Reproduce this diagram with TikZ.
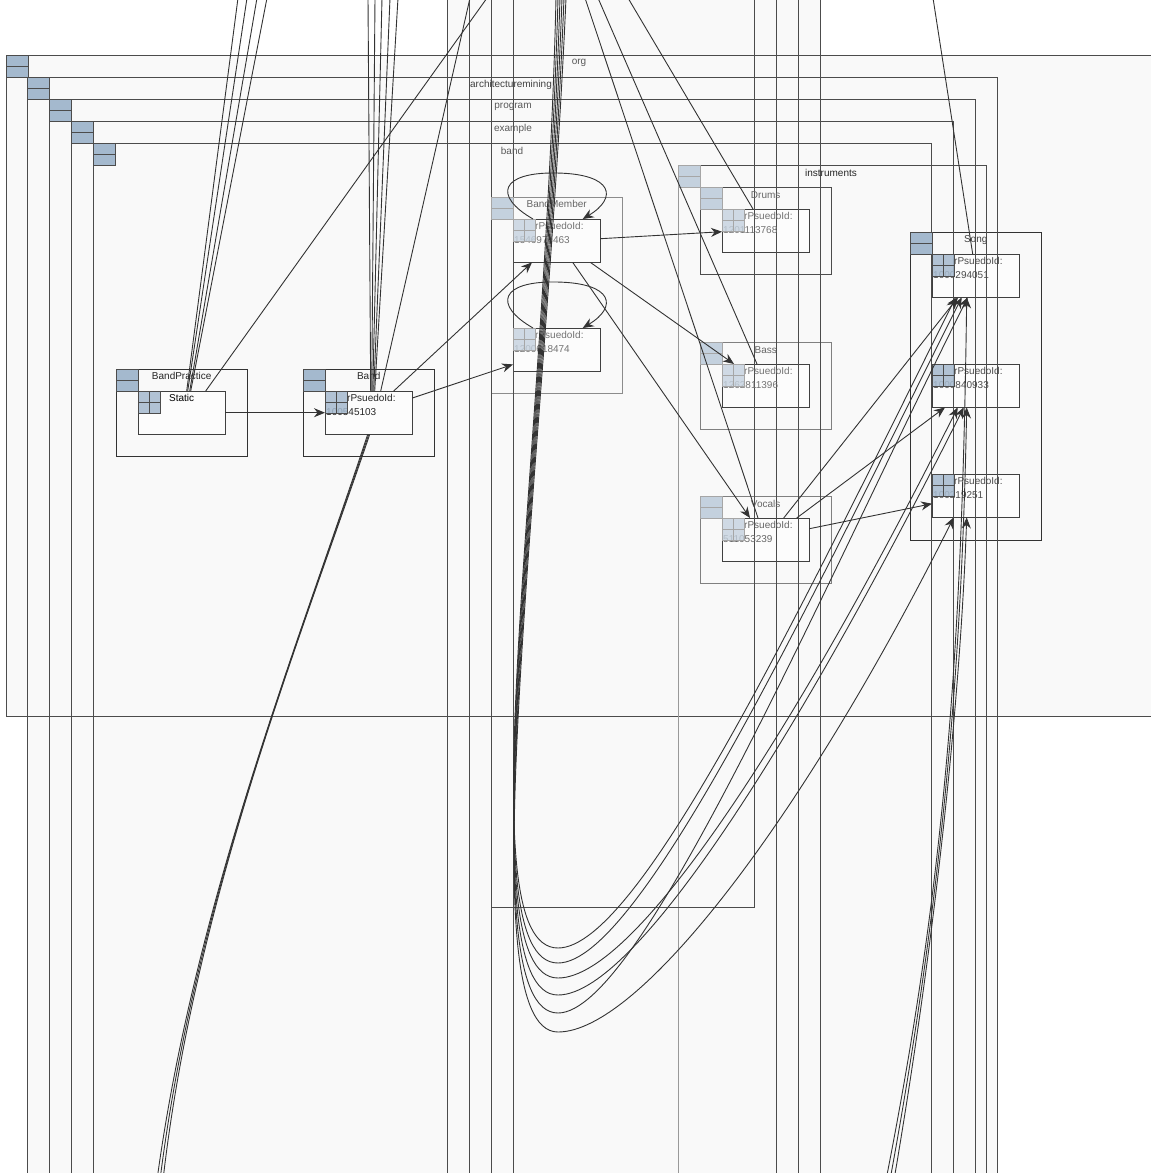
\documentclass[tikz,border=0pt]{standalone}
\usepackage{fontspec}
\setmainfont{Liberation Sans}
\usetikzlibrary{arrows.meta,calc,positioning}

\definecolor{pkgfill}{HTML}{F9F9F9}
\definecolor{objfill}{HTML}{FCFCFC}
\definecolor{icoblue}{HTML}{A4B9CE}
\definecolor{icopale}{HTML}{C4D1DE}
\definecolor{lnclr}{HTML}{333333}

\tikzset{
  clsframe/.style={draw=#1, fill=pkgfill, anchor=north west, inner sep=0pt,
    minimum width=131pt, minimum height=87pt},
  clsframe/.default=black!80,
  objbox/.style={draw=black!75, fill=objfill, anchor=north west, inner sep=0pt,
    minimum width=87pt, minimum height=43pt},
  hdricon/.style={anchor=north west, inner sep=0pt, minimum size=22pt,
    draw=black!70, fill=icoblue,
    path picture={\draw[black!70] (path picture bounding box.west) -- (path picture bounding box.east);}},
  hdrpale/.style={hdricon, draw=black!35, fill=icopale,
    path picture={\draw[black!35] (path picture bounding box.west) -- (path picture bounding box.east);}},
  gridicon/.style={hdricon, fill opacity=0.85,
    path picture={\draw[black!70] (path picture bounding box.west) -- (path picture bounding box.east)
      (path picture bounding box.north) -- (path picture bounding box.south);}},
  gridpale/.style={hdrpale, fill opacity=0.8,
    path picture={\draw[black!35] (path picture bounding box.west) -- (path picture bounding box.east)
      (path picture bounding box.north) -- (path picture bounding box.south);}},
  lbl/.style={inner sep=0pt, font=\fontsize{10}{12}\selectfont, text=#1},
  lbl/.default=black!85,
  conn/.style={draw=lnclr, line width=0.9pt},
  arr/.style={conn, -{Stealth[length=11pt,width=9pt]}},
  pkgline/.style={draw=#1, line width=0.9pt},
  pkgline/.default=black!70,
}

\begin{document}
\begin{tikzpicture}[x=1pt, y=-1pt]
  \useasboundingbox (0,0) rectangle (1151,1173);
  \clip (0,0) rectangle (1151,1173);
  \fill[white] (0,0) rectangle (1151,1173);
  % package areas
  \fill[pkgfill] (6,55) rectangle (1151,716);
  \fill[pkgfill] (27,716) rectangle (997,1173);
  \fill[pkgfill] (447,0) rectangle (820,55);

  % class frames
  \node[clsframe] (bpframe) at (116,369) {};
  \node[clsframe] (bandframe) at (303,369) {};
  \node[clsframe=black!45, minimum height=196pt] (bmframe) at (491,197) {};
  \node[clsframe=black!70] (drumsframe) at (700,187) {};
  \node[clsframe=black!50] (bassframe) at (700,342) {};
  \node[clsframe=black!50] (vocframe) at (700,496) {};
  \node[clsframe, minimum height=308pt] (songframe) at (910,232) {};

  \node[objbox] (staticbox) at (138,391) {};
  \node[objbox] (bandobj) at (325,391) {};
  \node[objbox] (bmobjA) at (513,219) {};
  \node[objbox] (bmobjB) at (513,328) {};
  \node[objbox] (drumsobj) at (722,209) {};
  \node[objbox] (bassobj) at (722,364) {};
  \node[objbox] (vocobj) at (722,518) {};
  \node[objbox] (songA) at (932,254) {};
  \node[objbox] (songB) at (932,364) {};
  \node[objbox] (songC) at (932,474) {};

  % package borders
  \draw[pkgline] (1160,55) -- (6,55) -- (6,716) -- (1160,716);
  \foreach \l/\t/\r in {27/77/997, 49/99/975, 71/121/953, 93/143/931}
    \draw[pkgline] (\r,1180) -- (\r,\t) -- (\l,\t) -- (\l,1180);
  \draw[pkgline] (986,1180) -- (986,165) -- (678,165);
  \draw[pkgline=black!40] (678,165) -- (678,1180);
  \foreach \x in {447,469,491,513,776,798,820}
    \draw[pkgline] (\x,-5) -- (\x,1180);
  \draw[pkgline] (754,-5) -- (754,907) -- (491,907);

  % package labels
  \node[lbl=black!65] (orglbl) at (579,63) {org};
  \node[lbl=black!75] (archlbl) at (511,85) {architecturemining};
  \node[lbl=black!65] (proglbl) at (513,107) {program};
  \node[lbl=black!65] (exlbl) at (513,129) {example};
  \node[lbl=black!65] (bandpklbl) at (512,151) {band};
  \node[lbl=black!85] (instrlbl) at (831,173) {instruments};

  % class labels
  \node[lbl] (bplbl) at ($(bpframe.north)+(0,7)$) {BandPractice};
  \node[lbl] (bandlbl) at ($(bandframe.north)+(0,7)$) {Band};
  \node[lbl=black!60] (bmlbl) at ($(bmframe.north)+(0,7)$) {BandMember};
  \node[lbl=black!60] (drumslbl) at ($(drumsframe.north)+(0,8)$) {Drums};
  \node[lbl=black!60] (basslbl) at ($(bassframe.north)+(0,8)$) {Bass};
  \node[lbl=black!60] (voclbl) at ($(vocframe.north)+(0,8)$) {Vocals};
  \node[lbl=black!75] (songlbl) at ($(songframe.north)+(0,8)$) {Song};
  \node[lbl=black] (statlbl) at ($(staticbox.north)+(0,7)$) {Static};

  \foreach \o/\num/\c in {bandobj/100545103/black!85, bmobjA/1546974463/black!55,
      bmobjB/1200618474/black!55, drumsobj/1201113768/black!55,
      bassobj/1262811396/black!55, vocobj/511053239/black!60,
      songA/1000294051/black!70, songB/1000840933/black!70, songC/100219251/black!70}{
    \node[lbl=\c, anchor=west] (\o-key) at ($(\o.north west)+(22,7)$) {rPsuedoId:};
    \node[lbl=\c, anchor=west] (\o-num) at ($(\o.north west)+(1,21)$) {\num};
  }

  % icons
  \foreach \x/\y in {6/55, 27/77, 49/99, 71/121, 93/143}
    \node[hdricon] (pk\x) at (\x,\y) {};
  \node[hdrpale] (pkinstr) at (678,165) {};
  \foreach \f in {bpframe, bandframe, songframe}
    \node[hdricon] (\f-ico) at (\f.north west) {};
  \foreach \f in {bmframe, drumsframe, bassframe, vocframe}
    \node[hdrpale] (\f-ico) at (\f.north west) {};
  \foreach \o in {staticbox, bandobj, songA, songB, songC}
    \node[gridicon] (\o-ico) at (\o.north west) {};
  \foreach \o in {bmobjA, bmobjB, drumsobj, bassobj, vocobj}
    \node[gridpale] (\o-ico) at (\o.north west) {};

  % connectors
  \draw[arr] (staticbox.east) -- (bandobj.west);
  \draw[arr] ($(bandobj.north east)+(0,7)$) -- ($(bmobjB.south west)+(0,-7)$);
  \draw[arr] ($(bandobj.north)+(25,0)$) -- ($(bmobjA.south west)+(19,0)$);
  \draw[arr] ($(bmobjA.east)+(0,-2)$) -- ($(drumsobj.west)+(0,1)$);
  \draw[arr] ($(bmobjA.south east)+(-10,0)$) -- ($(bassobj.north west)+(12,0)$);
  \draw[arr] ($(bmobjA.south)+(16,0)$) -- ($(vocobj.north west)+(28,0)$);
  \foreach \o in {bmobjA, bmobjB}
    \draw[arr] ($(\o.north west)+(20,0)$) .. controls ($(\o.north west)+(-20,-23)$)
      and ($(\o.north west)+(-13,-47)$) .. ($(\o.north)+(0,-46)$)
      .. controls ($(\o.north)+(57,-45)$) and ($(\o.north)+(61,-21)$) .. ($(\o.north)+(26,0)$);
  \draw[arr] ($(vocobj.east)+(0,-11)$) -- ($(songC.west)+(0,8)$);
  \draw[arr] ($(vocobj.north)+(31,0)$) -- ($(songB.south west)+(13,0)$);
  \draw[arr] ($(vocobj.north)+(18,0)$) -- ($(songA.south west)+(26,0)$);

  % lines running in from above
  \foreach \tx/\dx [count=\i] in {238/5, 247/6, 257/8, 267/9}{
    \coordinate (st\i) at (\tx,-2);
    \draw[conn] (st\i) -- ($(staticbox.north)+(\dx,0)$);
  }
  \coordinate (stx) at (487,-2);
  \draw[conn] (stx) -- ($(staticbox.north)+(24,0)$);
  \foreach \tx/\dx [count=\i] in {368/2, 375/3, 382/4, 390/5, 398/6}{
    \coordinate (bt\i) at (\tx,-2);
    \draw[conn] (bt\i) -- ($(bandobj.north)+(\dx,0)$);
  }
  \coordinate (btx) at (470,-2);
  \draw[conn] (btx) -- ($(bandobj.north)+(12,0)$);
  \coordinate (dt) at (628,-2);
  \draw[conn] (dt) -- ($(drumsobj.north west)+(31,0)$);
  \coordinate (bst) at (598,-2);
  \draw[conn] (bst) -- ($(bassobj.north west)+(35,0)$);
  \coordinate (vt) at (585,-2);
  \draw[conn] (vt) -- ($(vocobj.north west)+(36,0)$);
  \coordinate (sgt) at (933,-2);
  \draw[conn] (sgt) -- ($(songA.north)+(-3,0)$);

  % long loops down and back up to Song
  \foreach \tx/\yb/\t/\ex [count=\i] in {556/948/songA/-20, 558/963/songA/-14,
      560/978/songB/-18, 562/995/songB/-12, 564/1013/songA/-8, 566/1032/songC/-22}{
    \coordinate (ut\i) at (\tx,-2);
    \draw[arr] (ut\i) .. controls (545,480) and (465,\yb) .. (558,\yb)
      .. controls (640,\yb) and ($(\t.south)+(\ex-150,300)$) .. ($(\t.south)+(\ex,0)$);
  }

  % lines running in from below
  \foreach \bx/\t [count=\i] in {886/songA, 890/songB, 894/songC}{
    \coordinate (br\i) at (\bx,1180);
    \draw[arr] (br\i) .. controls (945,880) and (962,650) .. ($(\t.south)+(-9,0)$);
  }
  \foreach \bx [count=\i] in {157,160,163}{
    \coordinate (bl\i) at (\bx,1180);
    \draw[conn] (bl\i) .. controls (195,900) and (300,640) .. ($(bandobj.south)+(\i-2,0)$);
  }
\end{tikzpicture}
\end{document}
